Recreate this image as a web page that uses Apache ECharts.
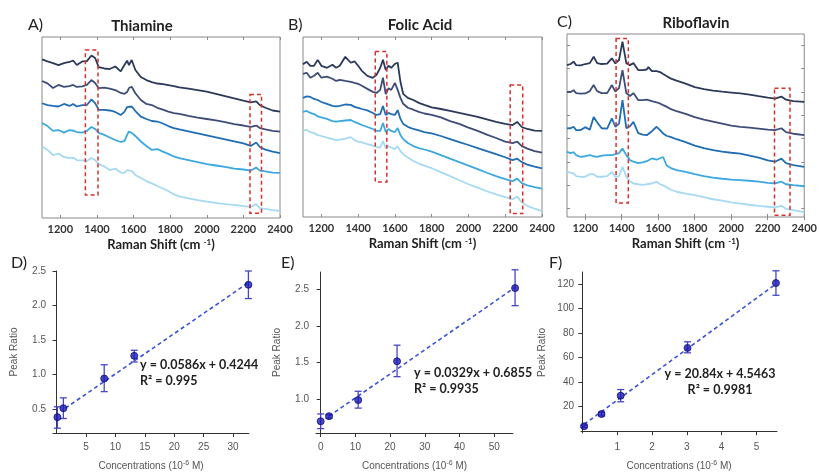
<!DOCTYPE html>
<html>
<head>
<meta charset="utf-8">
<script src="https://cdn.jsdelivr.net/npm/echarts@6/dist/echarts.min.js"></script>
<style>
  html, body { margin: 0; padding: 0; background: #fff; }
  #chart { width: 820px; height: 475px; }
</style>
</head>
<body>
<div id="chart"></div>
<script>
// ---- spectra (relative intensity, offset traces, 0 = bottom of box, 100 = top) ----
const thiamineShift = [1100,1130,1160,1190,1220,1250,1270,1290,1320,1345,1370,1390,1410,1440,1470,1500,1530,1550,1565,1575,1590,1610,1640,1670,1700,1730,1760,1790,1820,1850,1900,1950,2000,2050,2100,2150,2200,2240,2270,2290,2320,2360,2400];
const thiamine1 = [87.6,86.5,85.6,84.5,85.6,86.2,87,84.5,86.5,86.7,89.8,88.4,83.4,82.6,82.3,83.7,81,84.5,86.9,84.5,87.3,81.8,77.9,76.2,75.1,74.3,74,73.4,72.8,72.2,71.5,70.7,69.8,68.6,67.3,66.1,64.8,63.9,64.4,62.4,60.9,59.4,58.8];
const thiamine2 = [75.7,74.4,71.8,73.5,72.4,72.9,73.5,72.4,72.7,73.5,76.2,74.6,71.7,72,71.5,70.7,69.1,68.6,69.6,71.8,72.5,68.9,65.2,63,62.4,60.9,59.9,58.8,58,57.5,56.4,55.5,54.7,53.9,53,51.9,51.1,50.3,51.1,49.7,48.9,48.1,47.7];
const thiamine3 = [63.4,62.4,61.9,61.6,63,61.9,63,61.6,62.4,62.4,65.5,63.5,59.7,59.7,59.4,58.6,56.9,58.6,61.3,60.8,61.6,59.1,56,54.7,53.6,53.3,52.2,50.8,49.7,48.9,47.8,46.7,45.6,44.5,43.4,42.3,41.2,39.8,41.7,39.2,37.8,36.7,35.9];
const thiamine4 = [52.5,50.8,48.1,48.6,47.2,48.6,48.3,47.5,47.2,48.1,50.3,49.2,47,45.9,44.5,43.1,42,42.5,45.9,47.8,47,45.3,42.3,39.8,37.6,38.1,36.7,35.4,34,33.1,32,30.9,29.8,29,28.2,27.3,26.8,26.2,27.9,26.2,25.7,25.1,24.9];
const thiamine5 = [39.5,37.6,34.8,35.6,33.7,33.1,33.4,32,31.8,31.5,33.1,32,29.8,28.5,26.5,27.3,25.1,24.9,26.5,27.1,26,23.8,22.1,20.4,19.1,17.7,16.3,14.9,13,11.9,10.8,9.9,9.1,8.3,7.7,7.2,6.6,6.1,7.7,5.5,5,4.4,4];

const folicShift = [1100,1120,1140,1160,1180,1200,1230,1260,1280,1300,1330,1360,1380,1400,1420,1450,1480,1500,1520,1535,1550,1565,1580,1600,1615,1630,1645,1670,1700,1730,1760,1800,1850,1900,1950,2000,2050,2100,2150,2200,2240,2265,2290,2320,2360,2400];
const folic1 = [84.8,86.2,84,84,87.3,84,82.9,84.6,82.9,84,89,85.7,86.5,84,81.2,78.4,77.3,79,82.9,87.3,81.7,84,82.9,85.1,85.7,75.1,68.4,66.2,65,63.4,62.3,60.9,60,58.9,57.8,56.7,55.6,54.2,52.8,51.7,51.1,52.8,50,48.9,48,47.8];
const folic2 = [79.5,80.1,77.4,78.5,80.1,77.4,78,76.8,75.6,76.2,75.6,75.1,74.5,74,72.9,71.2,69.5,68.9,70.6,77.4,68.3,71.5,70.6,74.5,70.6,66.2,62.9,60.7,59.6,58.4,57.5,56.7,55.3,53.3,51.7,49.7,47.8,45.8,43.9,41.9,41.1,41.9,39.4,38,36.6,35.7];
const folic3 = [66.2,67,66.7,65.6,65,63.9,62.8,61.7,61.4,61.7,62.5,62.3,61.2,60.6,60,59.2,57.8,56.7,57.2,61.7,56.7,57.8,57.2,56.7,59.4,54.5,51.7,50.1,48.9,48.1,47.2,46.4,45,43.3,41.6,40,38.3,36.6,34.9,33.2,31.6,32.4,30.5,29.1,28,27];
const folic4 = [58.4,58.9,57.8,57.2,55.9,55.3,54.5,53.3,53,53.3,53.6,53.9,52.8,52,51.1,50,48.9,47.8,47.8,52.2,47.2,48.9,47.8,47.2,49.4,45.5,43.3,41.1,39.4,38.3,37.5,36.3,34.4,32.4,30.5,28.5,26.6,24.6,22.7,21,19.9,21.3,18.8,17.6,16.6,15.8];
const folic5 = [48.3,48.3,47.2,46.6,45.5,45,44.1,43.3,42.7,43,43.6,44.4,42.7,41.9,41.4,40.5,39.7,38.9,38.6,42.2,38.3,39.4,38.6,37.7,39.4,36.6,34.9,33,31.1,29.7,28.5,27.1,24.9,22.7,20.4,18.2,16.3,14.3,12.6,11,9.9,11.3,8.2,6.2,4.6,3.3];

const riboShift = [1100,1120,1136,1150,1175,1200,1225,1246,1265,1290,1320,1346,1365,1385,1404,1425,1445,1464,1490,1515,1537,1546,1565,1591,1610,1627,1645,1670,1700,1750,1800,1850,1900,1950,2000,2050,2100,2150,2200,2240,2275,2300,2340,2400];
const ribo1 = [83,83.6,84.9,83,82.8,83.6,84.1,87.6,84.1,83.6,83.8,86.7,83.9,85.8,95.8,84.1,83,84.1,80.3,80.3,80.6,81.9,79.7,79.7,79.2,78.1,77,75.6,74.5,72.9,71,69.9,69.1,68.5,68,67.5,66.9,66,65.2,64.7,65.8,64.1,63.3,62.9];
const ribo2 = [68.4,68.3,69.3,67.7,67.4,67.5,68.8,72.1,68.8,67.7,67.7,72.1,68.5,70.4,80.3,67.7,66.1,67.7,63.9,63.9,64.1,65,63.3,62.7,62,61.1,60.3,58.9,57.8,56.4,54.6,53.2,52.1,51,49.9,49.3,48.8,48.3,47.7,47.5,48.5,46.4,45.5,44.7];
const ribo3 = [48.4,48.5,49.3,47.5,47.5,49.1,47.7,54.7,51.8,48.5,48.3,53.9,49.3,51,63.9,48.5,49.6,52,45.8,45,44.7,45.3,46.9,49.3,47.5,45.6,44.4,43.6,42.5,40.9,39,37.6,36.5,35.7,35.1,34.6,33.5,32.4,31,30.2,31.9,29.4,28.3,27.4];
const ribo4 = [35.6,34.9,35.4,33.8,32.8,33.2,33.8,33.2,32.9,33.5,33.8,33.8,34.3,34.9,37.4,33.8,31.1,30.2,29.4,29.9,30.5,31,32,31.3,32.1,32.8,28.3,26.7,25.6,24.6,23.4,22.3,21.5,20.9,20.4,20.1,19.8,19.3,18.7,18.4,19.3,17.9,17.4,16.8];
const ribo5 = [24.6,24.2,23.9,22.3,21.9,22,23.4,23.4,22,22,22.3,24.6,22,22.3,27.4,22,19.5,18.3,17.9,17.6,17.9,18.2,18.3,19.3,17.9,17.3,16.3,14.9,13.8,12.8,11.9,10.8,9.7,8.9,8,7.3,6.7,6.1,5.6,5.3,6.1,4.5,3.7,2.7];

// highlighted bands: [shiftFrom, shiftTo, low, high]
const thiamineBoxes = [[1337,1406,12.7,92.8],[2236,2299,2.6,68.3]];
const folicBoxes = [[1493,1556,19.5,92],[2227,2295,1.9,73.4]];
const riboBoxes = [[1369,1436,7.7,97.6],[2237,2322,0.9,70.3]];

const shiftTicks = [1200,1400,1600,1800,2000,2200,2400];
const riboSideTicks = [4.6,17.4,30.1,42.9,55.7,68.4,81.2,93.9];

// ---- calibration curves ----
const thiamineConc = [0.15, 1.16, 8.1, 13.2, 32.6];
const thiamineRatio = [0.38, 0.51, 0.94, 1.27, 2.3];
const thiamineLow = [0.22, 0.36, 0.75, 1.18, 2.1];
const thiamineHigh = [0.53, 0.66, 1.14, 1.35, 2.5];
const thiamineFitX = [1.5, 32.6];
const thiamineFitY = [0.51, 2.33];

const folicConc = [0, 2.4, 10.8, 22, 56];
const folicRatio = [0.7, 0.77, 0.99, 1.52, 2.52];
const folicLow = [0.6, 0.74, 0.88, 1.31, 2.28];
const folicHigh = [0.8, 0.79, 1.11, 1.74, 2.77];
const folicFitX = [2.4, 56];
const folicFitY = [0.77, 2.53];

const riboConc = [0.05, 0.55, 1.1, 3.02, 5.56];
const riboRatio = [4, 14, 29, 68, 121];
const riboLow = [3, 12.5, 24, 64, 111];
const riboHigh = [5, 15.5, 34, 73, 131];
const riboFitX = [0.05, 5.5];
const riboFitY = [5.6, 119];

const thiamineXTicks = [5,10,15,20,25,30];
const thiamineYTicks = [0.5,1.0,1.5,2.0,2.5];
const folicXTicks = [0,10,20,30,40,50];
const folicYTicks = [1.0,1.5,2.0,2.5];
const riboXTicks = [1,2,3,4,5];
const riboYTicks = [20,40,60,80,100,120];

const traceColors = ['#2b3a5a', '#3d4d78', '#1f6db3', '#3ba8e0', '#a6daf2'];

const chart = echarts.init(document.getElementById('chart'));

const boldFont = 'Lato, "Open Sans", sans-serif';
const plainFont = '"Liberation Sans", Arial, sans-serif';

const spectraPanels = [
  { grid: {left:42, top:37, width:238, height:181}, shift: thiamineShift, traces: [thiamine1,thiamine2,thiamine3,thiamine4,thiamine5], boxes: thiamineBoxes, sideTicks: false },
  { grid: {left:303, top:37, width:239, height:180}, shift: folicShift, traces: [folic1,folic2,folic3,folic4,folic5], boxes: folicBoxes, sideTicks: false },
  { grid: {left:567, top:34, width:238, height:183}, shift: riboShift, traces: [ribo1,ribo2,ribo3,ribo4,ribo5], boxes: riboBoxes, sideTicks: true }
];

const calPanels = [
  { grid: {left:53, top:271, width:196, height:162}, x:[-0.6,32.7], y:[0.15,2.5], xt: thiamineXTicks, yt: thiamineYTicks, dec:1,
    conc: thiamineConc, ratio: thiamineRatio, low: thiamineLow, high: thiamineHigh, fx: thiamineFitX, fy: thiamineFitY },
  { grid: {left:316, top:272, width:197, height:161}, x:[-1.35,55.4], y:[0.54,2.74], xt: folicXTicks, yt: folicYTicks, dec:1,
    conc: folicConc, ratio: folicRatio, low: folicLow, high: folicHigh, fx: folicFitX, fy: folicFitY },
  { grid: {left:581, top:272, width:196, height:161}, x:[-0.04,5.59], y:[-1.5,130], xt: riboXTicks, yt: riboYTicks, dec:0,
    conc: riboConc, ratio: riboRatio, low: riboLow, high: riboHigh, fx: riboFitX, fy: riboFitY }
];

const grids = [], xAxes = [], yAxes = [], series = [];

spectraPanels.forEach(function (p, i) {
  grids.push(Object.assign({ show: true, borderColor: '#8a8a8a', borderWidth: 1, backgroundColor: 'transparent' }, p.grid));
  const xi = xAxes.length;
  xAxes.push({
    gridIndex: i, type: 'value', min: 1100, max: 2400,
    axisLine: { show: false },
    axisTick: { show: true, inside: true, length: 3, customValues: shiftTicks, lineStyle: { color: '#8a8a8a' } },
    axisLabel: { customValues: shiftTicks, color: '#333', fontFamily: boldFont, fontWeight: 'bold', fontSize: 11, margin: 6,
      formatter: function (v) { return String(v); } },
    splitLine: { show: false },
    name: '{t|Raman Shift (cm }{s|-1}{t|)}',
    nameLocation: 'middle', nameGap: 20,
    nameTextStyle: { rich: {
      t: { fontFamily: boldFont, fontWeight: 'bold', fontSize: 13, color: '#222' },
      s: { fontFamily: boldFont, fontWeight: 'bold', fontSize: 8, color: '#222', verticalAlign: 'top', padding: [0,0,6,0] }
    } }
  });
  xAxes.push({
    gridIndex: i, type: 'value', min: 1100, max: 2400, position: 'top',
    axisLine: { show: false },
    axisTick: { show: true, inside: true, length: 3, customValues: shiftTicks, lineStyle: { color: '#8a8a8a' } },
    axisLabel: { show: false }, splitLine: { show: false }
  });
  const yi = yAxes.length;
  yAxes.push({
    gridIndex: i, type: 'value', min: 0, max: 100,
    axisLine: { show: false }, axisLabel: { show: false }, splitLine: { show: false },
    axisTick: { show: p.sideTicks, inside: true, length: 3, customValues: riboSideTicks, lineStyle: { color: '#8a8a8a' } }
  });
  if (p.sideTicks) {
    yAxes.push({
      gridIndex: i, type: 'value', min: 0, max: 100, position: 'right',
      axisLine: { show: false }, axisLabel: { show: false }, splitLine: { show: false },
      axisTick: { show: true, inside: true, length: 3, customValues: riboSideTicks, lineStyle: { color: '#8a8a8a' } }
    });
  }
  p.traces.forEach(function (tr, k) {
    const s = {
      type: 'line', xAxisIndex: xi, yAxisIndex: yi,
      data: p.shift.map(function (x, j) { return [x, tr[j]]; }),
      showSymbol: false, symbol: 'none', animation: false, silent: true,
      lineStyle: { color: traceColors[k], width: 1.8 },
      z: 2
    };
    if (k === 0) {
      s.markArea = {
        silent: true, z: 5,
        itemStyle: { color: 'rgba(0,0,0,0)', borderColor: '#d6302d', borderWidth: 1.5, borderType: [4, 3] },
        data: p.boxes.map(function (b) { return [{ xAxis: b[0], yAxis: b[3] }, { xAxis: b[1], yAxis: b[2] }]; })
      };
    }
    series.push(s);
  });
});

function errorBarItem(params, api) {
  const x = api.value(0);
  const top = api.coord([x, api.value(2)]);
  const bot = api.coord([x, api.value(1)]);
  const w = 3.5;
  const style = { stroke: '#4646c8', lineWidth: 1.3 };
  return { type: 'group', children: [
    { type: 'line', shape: { x1: top[0], y1: top[1], x2: bot[0], y2: bot[1] }, style: style },
    { type: 'line', shape: { x1: top[0] - w, y1: top[1], x2: top[0] + w, y2: top[1] }, style: style },
    { type: 'line', shape: { x1: bot[0] - w, y1: bot[1], x2: bot[0] + w, y2: bot[1] }, style: style }
  ] };
}

calPanels.forEach(function (p, i) {
  const gi = 3 + i;
  grids.push(Object.assign({ show: false }, p.grid));
  const xi = xAxes.length;
  xAxes.push({
    gridIndex: gi, type: 'value', min: p.x[0], max: p.x[1],
    axisLine: { show: true, lineStyle: { color: '#333', width: 1 } },
    axisTick: { show: true, length: 4, customValues: p.xt, lineStyle: { color: '#333' } },
    axisLabel: { customValues: p.xt, color: '#555', fontFamily: plainFont, fontSize: 10, margin: 9 },
    splitLine: { show: false },
    name: '{t|Concentrations (10}{s|-6}{t| M)}',
    nameLocation: 'middle', nameGap: 27,
    nameTextStyle: { rich: {
      t: { fontFamily: plainFont, fontSize: 10, color: '#555' },
      s: { fontFamily: plainFont, fontSize: 7, color: '#555', verticalAlign: 'top', padding: [0,0,5,0] }
    } }
  });
  const yi = yAxes.length;
  yAxes.push({
    gridIndex: gi, type: 'value', min: p.y[0], max: p.y[1],
    axisLine: { show: true, lineStyle: { color: '#333', width: 1 } },
    axisTick: { show: true, length: 4, customValues: p.yt, lineStyle: { color: '#333' } },
    axisLabel: { customValues: p.yt, color: '#555', fontFamily: plainFont, fontSize: 10, margin: 7,
      formatter: function (v) { return v.toFixed(p.dec); } },
    splitLine: { show: false },
    name: 'Peak Ratio', nameLocation: 'middle', nameGap: 34,
    nameTextStyle: { fontFamily: plainFont, fontSize: 10, color: '#555' }
  });
  series.push({
    type: 'line', xAxisIndex: xi, yAxisIndex: yi, animation: false, silent: true,
    data: p.fx.map(function (x, j) { return [x, p.fy[j]]; }),
    showSymbol: false, symbol: 'none',
    lineStyle: { color: '#3a52d8', width: 1.6, type: [4, 3] }, z: 2
  });
  series.push({
    type: 'custom', xAxisIndex: xi, yAxisIndex: yi, animation: false, silent: true,
    renderItem: errorBarItem, encode: { x: 0, y: [1, 2] },
    data: p.conc.map(function (c, j) { return [c, p.low[j], p.high[j]]; }), z: 3, clip: false
  });
  series.push({
    type: 'scatter', xAxisIndex: xi, yAxisIndex: yi, animation: false, silent: true,
    data: p.conc.map(function (c, j) { return [c, p.ratio[j]]; }),
    symbol: 'circle', symbolSize: 7,
    itemStyle: { color: '#1a1ab4', borderColor: '#10107a', borderWidth: 1 }, z: 4, clip: false
  });
});

function label(text, x, y, size, weight, align) {
  return { type: 'text', x: x, y: y, silent: true, z: 10,
    style: { text: text, fontFamily: boldFont, fontSize: size, fontWeight: weight || 'normal', fill: '#222', align: align || 'left', lineHeight: size + 3.5 } };
}

const texts = [
  label('A)', 28, 15, 16), label('B)', 288, 15, 16), label('C)', 557, 12, 16),
  label('D)', 11, 253, 16), label('E)', 281, 253, 16), label('F)', 549, 253, 16),
  label('Thiamine', 142, 17, 15, 'bold', 'center'),
  label('Folic Acid', 420, 16, 15, 'bold', 'center'),
  label('Riboflavin', 696, 14, 15, 'bold', 'center'),
  label('y = 0.0586x + 0.4244\nR\u00b2 = 0.995', 140, 357, 12.5, 'bold'),
  label('y = 0.0329x + 0.6855\nR\u00b2 = 0.9935', 414, 365, 12.5, 'bold'),
  label('y = 20.84x + 4.5463\nR\u00b2 = 0.9981', 720, 366, 12.5, 'bold', 'center')
];

chart.setOption({
  animation: false,
  backgroundColor: '#fff',
  grid: grids,
  xAxis: xAxes,
  yAxis: yAxes,
  series: series,
  graphic: texts
});
</script>
</body>
</html>
